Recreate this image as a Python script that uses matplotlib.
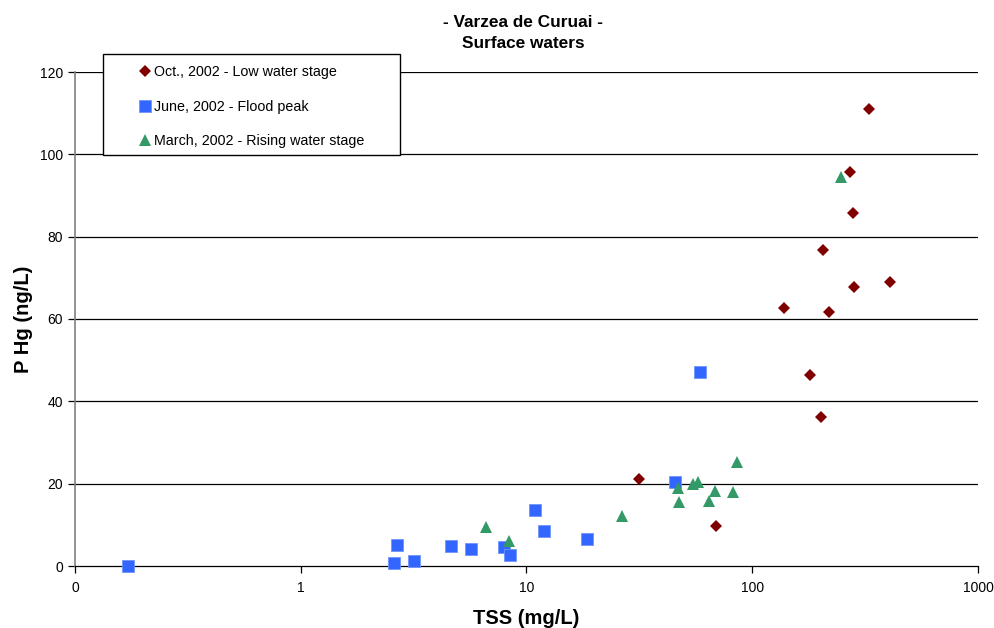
import numpy as np
import matplotlib
matplotlib.use('Agg')
import matplotlib.pyplot as plt
from matplotlib.patches import Rectangle

plt.rcParams['font.family'] = ['Liberation Sans', 'DejaVu Sans']

# Oct., 2002 - Low water stage
oct_tss = [330, 272, 279, 206, 409, 283, 138, 219, 181, 202, 31.6, 69.3]
oct_phg = [110.9, 95.8, 85.8, 76.7, 69.1, 67.8, 62.6, 61.6, 46.4, 36.1, 21.1, 9.6]

# June, 2002 - Flood peak
jun_tss = [0.172, 2.59, 2.66, 3.16, 4.62, 5.70, 7.95, 8.48, 10.9, 11.9, 18.5, 45.5, 58.9]
jun_phg = [0.0, 0.8, 5.2, 1.1, 4.9, 4.2, 4.6, 2.6, 13.6, 8.6, 6.6, 20.5, 47.2]

# March, 2002 - Rising water stage
mar_tss = [6.60, 8.36, 26.5, 46.9, 47.5, 54.5, 57.7, 64.1, 68.2, 81.9, 85.3, 247]
mar_phg = [9.4, 6.1, 12.1, 19.0, 15.6, 19.9, 20.3, 15.9, 18.1, 17.9, 25.3, 94.4]

x_ticks = [0.1, 1, 10, 100, 1000]
x_tick_labels = ['0', '1', '10', '100', '1000']
y_ticks = [0, 20, 40, 60, 80, 100, 120]

fig = plt.figure(figsize=(9.95, 6.28), dpi=100)
ax = fig.add_axes([75/995, 62/628, 903/995, 494/628])

ax.set_xscale('log')
ax.set_xlim(0.1, 1000)
ax.set_ylim(0, 120)

for y in y_ticks[1:]:
    ax.axhline(y, color='black', lw=0.9, zorder=1)

h_jun, = ax.plot(jun_tss, jun_phg, 's', color='#3366FF', ms=9, mec='#6f95ff', mew=0.6,
                 zorder=3, clip_on=False)
h_mar, = ax.plot(mar_tss, mar_phg, '^', color='#339966', ms=9, mew=0, zorder=4, clip_on=False)
h_oct, = ax.plot(oct_tss, oct_phg, 'D', color='#800000', ms=6.2, mew=0, zorder=5, clip_on=False)

ax.set_xticks(x_ticks)
ax.set_xticklabels(x_tick_labels)
ax.xaxis.set_minor_locator(matplotlib.ticker.NullLocator())
ax.set_yticks(y_ticks)
ax.tick_params(axis='both', labelsize=10, length=5, width=0.9, colors='black')
ax.tick_params(axis='x', pad=6)

for s in ['top', 'right']:
    ax.spines[s].set_visible(False)
ax.spines['left'].set_color('#808080')
ax.spines['left'].set_linewidth(1.2)
ax.spines['bottom'].set_color('black')
ax.spines['bottom'].set_linewidth(0.9)

ax.set_xlabel('TSS (mg/L)', fontsize=14.5, fontweight='bold', labelpad=10)
ax.set_ylabel('P Hg (ng/L)', fontsize=14.5, fontweight='bold', labelpad=5)
fig.text(523/995, 1 - 33/628, '- Varzea de Curuai -\nSurface waters', ha='center', va='center',
         fontsize=12.4, fontweight='bold', linespacing=1.45)

# legend box drawn separately, entries placed inside
fig.patches.append(Rectangle((103/995, 1 - 155/628), 297/995, 101/628, transform=fig.transFigure,
                             facecolor='white', edgecolor='black', lw=1, zorder=10))
leg = fig.legend([h_oct, h_jun, h_mar],
                 ['Oct., 2002 - Low water stage', 'June, 2002 - Flood peak',
                  'March, 2002 - Rising water stage'],
                 loc='upper left', bbox_to_anchor=(138/995, 1 - 65/628), frameon=False,
                 fontsize=10.3, numpoints=1, handlelength=1.0, handletextpad=0.1,
                 labelspacing=1.45, borderpad=0, borderaxespad=0)
leg.set_zorder(11)

fig.savefig('out.png', dpi=100)
